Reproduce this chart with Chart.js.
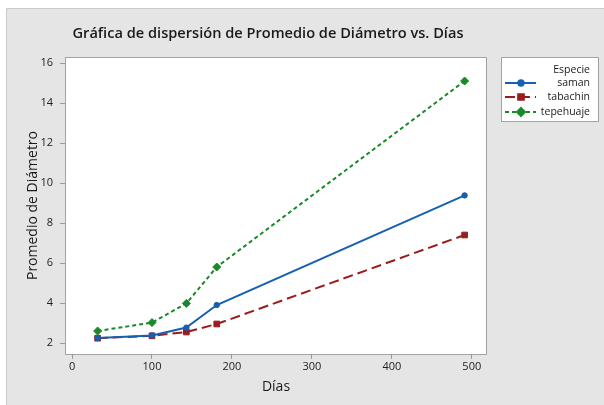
<!DOCTYPE html>
<html>
<head>
<meta charset="utf-8">
<script src="https://cdn.jsdelivr.net/npm/chart.js@4/dist/chart.umd.min.js"></script>
<style>
  html, body { margin: 0; padding: 0; background: #fff; }
  #wrap { width: 604px; height: 405px; }
</style>
</head>
<body>
<div id="wrap"><canvas id="chart" width="604" height="405"></canvas></div>
<script>
// values
const days = [32, 100, 143, 181, 491];
const saman = [2.25, 2.38, 2.77, 3.9, 9.38];
const tabachin = [2.24, 2.36, 2.55, 2.95, 7.4];
const tepehuaje = [2.6, 3.02, 3.98, 5.8, 15.1];

const xTicks = [0, 100, 200, 300, 400, 500];
const yTicks = [2, 4, 6, 8, 10, 12, 14, 16];

const titleText = "Gráfica de dispersión de Promedio de Diámetro vs. Días";
const legendTitle = "Especie";

const FONT = "'Open Sans', 'DejaVu Sans', sans-serif";

function pts(ys) {
  return days.map((d, i) => ({ x: d, y: ys[i] }));
}

// grey panel, white plot area, frame, title and legend box
const framePlugin = {
  id: "frame",
  beforeDraw(chart) {
    const ctx = chart.ctx;
    const a = chart.chartArea;
    ctx.save();
    ctx.fillStyle = "#ffffff";
    ctx.fillRect(0, 0, chart.width, chart.height);
    ctx.fillStyle = "#e5e5e5";
    ctx.fillRect(6, 8, chart.width - 6, chart.height - 8);
    ctx.strokeStyle = "#c9c9c9";
    ctx.lineWidth = 1;
    ctx.beginPath();
    ctx.moveTo(6.5, chart.height);
    ctx.lineTo(6.5, 8.5);
    ctx.lineTo(chart.width, 8.5);
    ctx.stroke();
    ctx.fillStyle = "#ffffff";
    ctx.fillRect(a.left, a.top, a.right - a.left, a.bottom - a.top);
    ctx.strokeStyle = "#a3a3a3";
    ctx.strokeRect(a.left + 0.5, a.top + 0.5, a.right - a.left - 1, a.bottom - a.top);
    ctx.restore();
  },
  afterDraw(chart) {
    const ctx = chart.ctx;
    ctx.save();
    // title
    ctx.fillStyle = "#1a1a1a";
    ctx.font = "600 14.6px " + FONT;
    ctx.textAlign = "center";
    ctx.textBaseline = "middle";
    ctx.fillText(titleText, 268, 34);

    // legend
    const lx = 501, ly = 57, lw = 97, lh = 64;
    ctx.fillStyle = "#ffffff";
    ctx.fillRect(lx, ly, lw, lh);
    ctx.strokeStyle = "#a3a3a3";
    ctx.lineWidth = 1;
    ctx.strokeRect(lx + 0.5, ly + 0.5, lw, lh);

    ctx.font = "10.5px " + FONT;
    ctx.textAlign = "right";
    ctx.fillStyle = "#1a1a1a";
    ctx.fillText(legendTitle, 590, 70);
    const rows = [83, 97, 112];
    chart.data.datasets.forEach((ds, i) => {
      const y = rows[i];
      ctx.strokeStyle = ds.borderColor;
      ctx.lineWidth = ds.borderWidth;
      ctx.setLineDash(ds.borderDash || []);
      ctx.beginPath();
      ctx.moveTo(505, y);
      ctx.lineTo(536, y);
      ctx.stroke();
      ctx.setLineDash([]);
      ctx.fillStyle = ds.pointBackgroundColor;
      ctx.strokeStyle = ds.pointBackgroundColor;
      Chart.helpers.drawPoint(ctx, {
        pointStyle: ds.pointStyle,
        radius: ds.pointRadius,
        rotation: 0,
        borderWidth: ds.pointBorderWidth
      }, 521, y);
      ctx.fillStyle = "#1a1a1a";
      ctx.fillText(ds.label, 590, y);
    });
    ctx.restore();
  }
};

new Chart(document.getElementById("chart"), {
  type: "scatter",
  data: {
    datasets: [
      {
        label: "saman",
        data: pts(saman),
        showLine: true,
        borderColor: "#1560b0",
        backgroundColor: "#1560b0",
        pointBackgroundColor: "#1560b0",
        pointBorderColor: "#1560b0",
        borderWidth: 2,
        pointBorderWidth: 1,
        pointStyle: "circle",
        pointRadius: 2.7
      },
      {
        label: "tabachin",
        data: pts(tabachin),
        showLine: true,
        borderColor: "#9b1c1c",
        backgroundColor: "#9b1c1c",
        pointBackgroundColor: "#9b1c1c",
        pointBorderColor: "#9b1c1c",
        borderWidth: 2,
        borderDash: [10, 5],
        pointBorderWidth: 1,
        pointStyle: "rect",
        pointRadius: 4
      },
      {
        label: "tepehuaje",
        data: pts(tepehuaje),
        showLine: true,
        borderColor: "#198a28",
        backgroundColor: "#198a28",
        pointBackgroundColor: "#198a28",
        pointBorderColor: "#198a28",
        borderWidth: 2,
        borderDash: [4, 3],
        pointBorderWidth: 1,
        pointStyle: "rectRot",
        pointRadius: 4
      }
    ]
  },
  options: {
    responsive: false,
    animation: false,
    layout: { padding: { top: 57, right: 117, bottom: 0, left: 0 } },
    plugins: {
      legend: { display: false },
      title: { display: false },
      tooltip: { enabled: false }
    },
    scales: {
      x: {
        type: "linear",
        min: -8.8,
        max: 519,
        afterBuildTicks: (s) => { s.ticks = xTicks.map(v => ({ value: v })); },
        afterFit: (s) => { s.height = 51; },
        grid: { drawOnChartArea: false, drawTicks: true, tickLength: 5, color: "#9a9a9a" },
        border: { display: false },
        ticks: { font: { size: 11, family: FONT }, color: "#222", padding: 1, maxRotation: 0 },
        title: {
          display: true,
          text: "Días",
          font: { size: 14, family: FONT },
          color: "#1a1a1a",
          padding: { top: 0, bottom: 10 }
        }
      },
      y: {
        min: 1.45,
        max: 16.3,
        afterBuildTicks: (s) => { s.ticks = yTicks.map(v => ({ value: v })); },
        afterFit: (s) => { s.width = 65; },
        grid: { drawOnChartArea: false, drawTicks: true, tickLength: 5, color: "#9a9a9a" },
        border: { display: false },
        ticks: { font: { size: 11, family: FONT }, color: "#222", padding: 7 },
        title: {
          display: true,
          text: "Promedio de Diámetro",
          font: { size: 14, family: FONT },
          color: "#1a1a1a",
          padding: { top: 25, bottom: 0 }
        }
      }
    }
  },
  plugins: [framePlugin]
});
</script>
</body>
</html>
